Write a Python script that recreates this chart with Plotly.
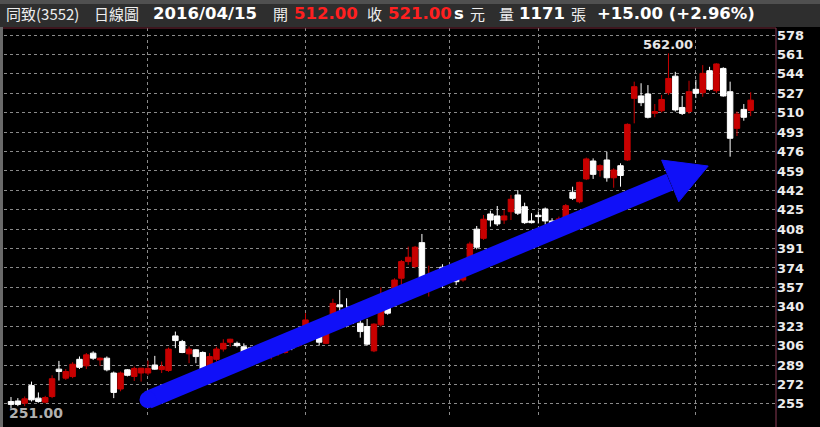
import plotly.graph_objects as go

# ---------------- data ----------------
OPEN = [257, 257.5, 255.6, 271, 260, 256.5, 261.4, 285.4, 277.5, 278.9,
        294, 288.3, 299.4, 293.5, 295, 282, 268, 284.8, 279, 282,
        282, 289, 285, 284.2, 314.5, 309.5, 298.8, 302.3, 300, 287.1,
        294, 303, 309, 308, 305, 304, 300, 305, 297, 299,
        300, 308, 306, 322.7, 325, 314.8, 308, 324, 341.7, 337,
        334, 325.6, 322.7, 301.4, 324.2, 340, 356, 365, 379.6, 375.3,
        396.2, 355, 364, 374.7, 372, 366, 363.5, 381.6, 408, 400,
        421.3, 419.6, 416, 423.3, 438, 427.7, 415.2, 420.2, 425.7, 415.2,
        412, 417.6, 440.3, 432, 452, 467.7, 459.8, 468.6, 453, 463.6,
        468.6, 522.6, 524.7, 526.4, 509.5, 511.7, 527.5, 542, 514.6, 511,
        530.5, 527.5, 546.8, 529.3, 548.8, 528.4, 496.3, 512.9, 512]
HIGH = [261, 260, 261.4, 274.5, 265, 262, 280, 292.6, 285.4, 291.5,
        296.5, 299.5, 301, 295.5, 296.5, 283.3, 283.3, 285.4, 287.6, 286.5,
        293, 297, 292, 304.3, 318.3, 311, 305.2, 303, 301, 299.4,
        305, 311.6, 312, 309.5, 308, 305, 306, 307, 304, 306,
        308, 310, 318, 334.4, 326, 317, 320, 347, 354.8, 347.5,
        338, 328.5, 329.4, 325.6, 357, 344, 365, 381, 392.7, 393.3,
        403.8, 376, 372, 377.3, 374, 368, 367, 397, 410.8, 420.4,
        424.2, 428.3, 424.8, 438, 442.3, 431.2, 422, 423.5, 427, 417.6,
        419, 430, 445.2, 449.6, 470.7, 470, 464.8, 475.8, 461.3, 465.7,
        500.7, 537.2, 535.8, 534.2, 517.6, 525.5, 562, 545.8, 524.7, 538,
        538.8, 551.7, 550.2, 553.3, 549.8, 537.2, 511, 517.6, 528]
LOW = [251, 253, 253, 257, 256, 255.5, 260, 275.4, 276, 277.5,
       285.5, 285.5, 293.5, 288.3, 283.5, 260, 266, 279, 275, 274.5,
       280, 284.8, 282, 283, 303.8, 299.4, 290.6, 290.6, 283.3, 286,
       292, 300.8, 305, 304.5, 299.5, 299, 298, 299, 294, 297,
       299, 302, 305, 321.3, 320, 306, 307.3, 319, 334.4, 322,
       325, 313, 306, 300.3, 322.7, 333, 354, 359, 376.7, 373.8,
       363.5, 349, 360, 356.3, 362, 359, 362, 381, 390.4, 398.6,
       410.2, 410.8, 412.6, 416, 420.4, 412.6, 413, 413, 412, 411.7,
       409, 414, 433.6, 430.7, 451, 452, 454, 449.6, 444.3, 445.2,
       467.7, 500.7, 515.8, 505, 506, 510.2, 525.5, 511, 508, 509,
       522.8, 524, 529.3, 527.5, 524, 471.5, 489.6, 503, 507]
CLOSE = [254.5, 254.5, 259.4, 258.5, 257, 260.5, 277, 283.3, 283.3, 289.7,
         287, 297.9, 295, 295, 284.8, 265, 282, 280, 286, 286.2,
         286, 285.4, 287.7, 302.9, 310.4, 300, 302.9, 296.4, 284.8, 296.4,
         303, 308, 311.6, 306, 300.3, 301.7, 304, 301, 302, 304,
         306, 304, 316, 328.5, 323.5, 309, 318.3, 343, 340, 326,
         328, 318.3, 307.3, 324.8, 350.4, 334.4, 363.5, 379.6, 383.4, 392.2,
         365, 364, 370, 372.3, 368, 362, 366.4, 395, 392.2, 416.7,
         416, 412.6, 419.6, 434.2, 422, 413.7, 413.7, 419, 415.2, 413.2,
         417, 428.6, 435, 449, 469.5, 456, 463.6, 453, 459.8, 455,
         499.8, 532.8, 518.8, 506, 511, 521.6, 540, 512.4, 509.4, 528.4,
         527, 544.5, 530.5, 552.7, 524.7, 487.6, 508.8, 506, 521]
X = list(range(len(OPEN)))

Y_TICKS = list(range(255, 579, 17))
MONTH_STARTS = [20, 43, 64, 77, 100]

CJK = "Noto Sans CJK TC"
LAT = "DejaVu Sans"
HEADER = [  # (text, left px, colour, bold, font, size)
    ("同致(3552)", 5, "#eeeeee", False, CJK, 15),
    ("日線圖", 93, "#eeeeee", False, CJK, 15),
    ("2016/04/15", 152, "#ffffff", True, LAT, 16.5),
    ("開", 272, "#eeeeee", False, CJK, 15),
    ("512.00", 293, "#ff2020", True, LAT, 16.5),
    ("收", 366, "#eeeeee", False, CJK, 15),
    ("521.00", 387, "#ff2020", True, LAT, 16.5),
    ("s", 453, "#ffffff", True, LAT, 16.5),
    ("元", 469, "#eeeeee", False, CJK, 15),
    ("量", 498, "#eeeeee", False, CJK, 15),
    ("1171", 518, "#ffffff", True, LAT, 16.5),
    ("張", 570, "#eeeeee", False, CJK, 15),
    ("+15.00 (+2.96%)", 596, "#ffffff", True, LAT, 16.5),
]

# arrow decoration (data coordinates)
ARROW_START = (20.0, 258.5)
ARROW_BASE = (96.2, 449.3)
ARROW_HEAD = [(95.0, 468.5), (101.8, 463.3), (97.5, 432.0)]

X_RANGE = [-1.02, 111.7]
Y_RANGE = [242.6, 584.2]

# ---------------- layout geometry ----------------
W, H = 820, 427
L, R, T, B = 4, 44, 28, 9
PW, PH = W - L - R, H - T - B


def px(xp):
    return (xp - L) / PW


def py(yp):
    return (H - B - yp) / PH


fig = go.Figure()
fig.add_trace(go.Candlestick(
    x=X, open=OPEN, high=HIGH, low=LOW, close=CLOSE,
    increasing=dict(line=dict(color="#c80000", width=1), fillcolor="#c80000"),
    decreasing=dict(line=dict(color="#ffffff", width=1), fillcolor="#ffffff"),
    whiskerwidth=0, hoverinfo="skip", showlegend=False,
))

shapes = []
# header bar
shapes.append(dict(type="rect", xref="paper", yref="paper", x0=px(0), x1=px(W),
                   y0=py(27), y1=py(0), fillcolor="#2e2e2e", line_width=0, layer="below"))
shapes.append(dict(type="rect", xref="paper", yref="paper", x0=px(0), x1=px(W),
                   y0=py(4), y1=py(0), fillcolor="#505050", line_width=0, layer="below"))
# left grey edge
shapes.append(dict(type="rect", xref="paper", yref="paper", x0=px(0), x1=px(3),
                   y0=py(H), y1=py(27), fillcolor="#6a6a6a", line_width=0, layer="below"))
# plot frame (top + right)
shapes.append(dict(type="line", xref="paper", yref="paper", x0=px(3), x1=1, y0=1, y1=1,
                   line=dict(color="#7a2a3a", width=1)))
shapes.append(dict(type="line", xref="paper", yref="paper", x0=1, x1=1, y0=py(H), y1=1,
                   line=dict(color="#8a3a55", width=1)))
# arrow shaft + head + rounded tail
shapes.append(dict(type="line", xref="x", yref="y",
                   x0=ARROW_START[0], y0=ARROW_START[1], x1=ARROW_BASE[0], y1=ARROW_BASE[1],
                   line=dict(color="#1010f8", width=18)))
head_path = "M " + " L ".join(f"{a},{b}" for a, b in ARROW_HEAD) + " Z"
shapes.append(dict(type="path", xref="x", yref="y", path=head_path,
                   fillcolor="#1010f8", line=dict(color="#1010f8", width=1)))
shapes.append(dict(type="circle", xref="x", yref="y", xsizemode="pixel", ysizemode="pixel",
                   xanchor=ARROW_START[0], yanchor=ARROW_START[1], x0=-8.5, x1=8.5, y0=-8.5, y1=8.5,
                   fillcolor="#1010f8", line_width=0))

annotations = []
for text, left, color, bold, fam, size in HEADER:
    annotations.append(dict(
        xref="paper", yref="paper", x=px(left), y=py(14), xanchor="left", yanchor="middle",
        text=f"<b>{text}</b>" if bold else text, showarrow=False,
        font=dict(family=fam, size=size, color=color), borderpad=0))

hi_i = max(X, key=lambda i: HIGH[i])
annotations.append(dict(x=X[hi_i], y=HIGH[hi_i], xref="x", yref="y", yanchor="bottom",
                        text=f"<b>{HIGH[hi_i]:.2f}</b>", showarrow=False, yshift=-1,
                        font=dict(family=LAT, size=13, color="#e6e6e6")))
annotations.append(dict(xref="paper", yref="paper", x=px(7), y=py(413), xanchor="left",
                        yanchor="middle", text=f"<b>{min(LOW):.2f}</b>", showarrow=False,
                        font=dict(family=LAT, size=14, color="#b0b0b0")))

fig.update_layout(
    width=W, height=H, margin=dict(l=L, r=R, t=T, b=B, pad=0),
    paper_bgcolor="#000000", plot_bgcolor="#000000",
    boxgap=0.2, boxgroupgap=0,
    shapes=shapes, annotations=annotations, showlegend=False,
    xaxis=dict(range=X_RANGE, tickvals=MONTH_STARTS, showticklabels=False, ticks="",
               showgrid=True, gridcolor="#8a8a8a", griddash="dot", gridwidth=1,
               zeroline=False, showline=False, rangeslider=dict(visible=False), fixedrange=True),
    yaxis=dict(range=Y_RANGE, side="right", tickvals=Y_TICKS, ticks="",
               showgrid=True, gridcolor="#8a8a8a", griddash="dot", gridwidth=1,
               zeroline=False, showline=False,
               tickfont=dict(family=LAT, size=13, color="#ececec", weight="bold")),
)

fig.write_html("out.html", config={"displayModeBar": False},
               post_script="document.body.style.margin='0';document.body.style.background='#000';")
